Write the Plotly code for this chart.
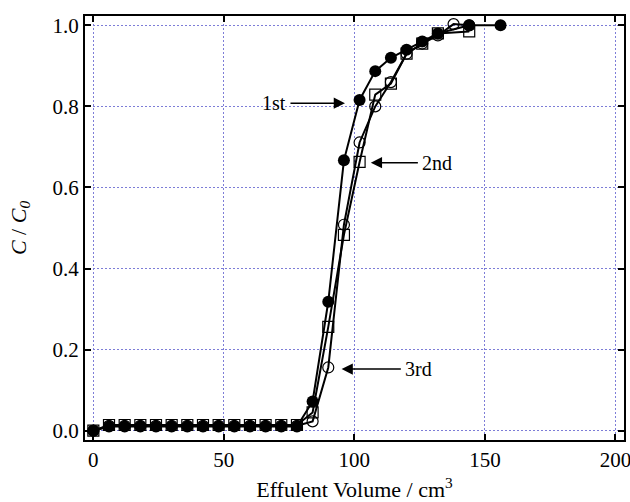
import plotly.graph_objects as go

# ---- data ----
x_first = [0, 6, 12, 18, 24, 30, 36, 42, 48, 54, 60, 66, 72, 78, 84, 90, 96, 102, 108, 114, 120, 126, 132, 144, 156]
y_first = [0.0, 0.01, 0.01, 0.01, 0.01, 0.01, 0.01, 0.01, 0.01, 0.01, 0.01, 0.01, 0.01, 0.01,
           0.072, 0.318, 0.667, 0.816, 0.887, 0.92, 0.94, 0.96, 0.98, 1.0, 1.0]

x_second = [0, 6, 12, 18, 24, 30, 36, 42, 48, 54, 60, 66, 72, 78, 84, 90, 96, 102, 108, 114, 120, 126, 132, 144]
y_second = [0.0, 0.014, 0.014, 0.014, 0.014, 0.014, 0.014, 0.014, 0.014, 0.014, 0.014, 0.014, 0.014, 0.014,
            0.045, 0.256, 0.483, 0.663, 0.829, 0.856, 0.93, 0.955, 0.98, 0.985]

x_third = [0, 6, 12, 18, 24, 30, 36, 42, 48, 54, 60, 66, 72, 78, 84, 90, 96, 102, 108, 114, 120, 126, 132, 138, 144]
y_third = [0.0, 0.012, 0.012, 0.012, 0.012, 0.012, 0.012, 0.012, 0.012, 0.012, 0.012, 0.012, 0.012, 0.012,
           0.023, 0.156, 0.508, 0.711, 0.80, 0.86, 0.93, 0.955, 0.975, 1.003, 1.0]

x_ticks = [0, 50, 100, 150, 200]
y_ticks = [0.0, 0.2, 0.4, 0.6, 0.8, 1.0]

# labels: text, arrow tip (x, y), text centre x
labels = ["1st", "2nd", "3rd"]
label_tip_x = [96.4, 106.3, 95.1]
label_tip_y = [0.808, 0.661, 0.152]
label_text_x = [69.2, 131.8, 124.7]

FONT = "Liberation Serif"

fig = go.Figure()

fig.add_trace(go.Scatter(
    x=x_third, y=y_third, mode="lines+markers",
    line=dict(color="black", width=2),
    marker=dict(symbol="circle-open", size=11, color="black", line=dict(width=1.2, color="black")),
    showlegend=False))

fig.add_trace(go.Scatter(
    x=x_second, y=y_second, mode="lines+markers",
    line=dict(color="black", width=2),
    marker=dict(symbol="square-open", size=11, color="black", line=dict(width=1.2, color="black")),
    showlegend=False))

fig.add_trace(go.Scatter(
    x=x_first, y=y_first, mode="lines+markers",
    line=dict(color="black", width=2),
    marker=dict(symbol="circle", size=12, color="black"),
    showlegend=False))

for t, tx, ty, lx in zip(labels, label_tip_x, label_tip_y, label_text_x):
    fig.add_annotation(x=tx, y=ty, ax=lx, ay=ty, xref="x", yref="y", axref="x", ayref="y",
                       text=t, showarrow=True, arrowhead=2, arrowsize=1.5, arrowwidth=1.5,
                       arrowcolor="black", borderpad=4,
                       font=dict(family=FONT, size=20, color="black"))

grid_col = "rgb(125,125,215)"
fig.update_xaxes(
    range=[-3.2, 203.3], tickvals=x_ticks, ticktext=[str(v) for v in x_ticks],
    showline=True, linecolor="black", linewidth=2, mirror="ticks",
    ticks="inside", ticklen=6, tickwidth=2, tickcolor="black",
    showgrid=True, gridcolor=grid_col, gridwidth=1, griddash="2px,2px",
    zeroline=False, ticklabeloverflow="allow",
    tickfont=dict(family=FONT, size=21, color="black"),
    title=dict(text="Effulent Volume / cm<sup>3</sup>", font=dict(family=FONT, size=22, color="black"), standoff=13),
)
fig.update_yaxes(
    range=[-0.023, 1.023], tickvals=y_ticks, ticktext=["%.1f" % v for v in y_ticks],
    showline=True, linecolor="black", linewidth=2, mirror="ticks",
    ticks="inside", ticklen=6, tickwidth=2, tickcolor="black",
    showgrid=True, gridcolor=grid_col, gridwidth=1, griddash="2px,2px",
    zeroline=False, ticklabeloverflow="allow",
    tickfont=dict(family=FONT, size=21, color="black"),
    title=dict(text="<i>C</i> / <i>C</i><sub><i>0</i></sub>", font=dict(family=FONT, size=22, color="black"), standoff=20),
)

fig.update_layout(
    width=630, height=502,
    margin=dict(l=85, r=6, t=16, b=62, autoexpand=False),
    plot_bgcolor="white", paper_bgcolor="white",
    font=dict(family=FONT, color="black"),
)

fig.write_html("out.html", config={"displayModeBar": False},
               post_script="document.body.style.margin='0';document.body.style.padding='0';")
